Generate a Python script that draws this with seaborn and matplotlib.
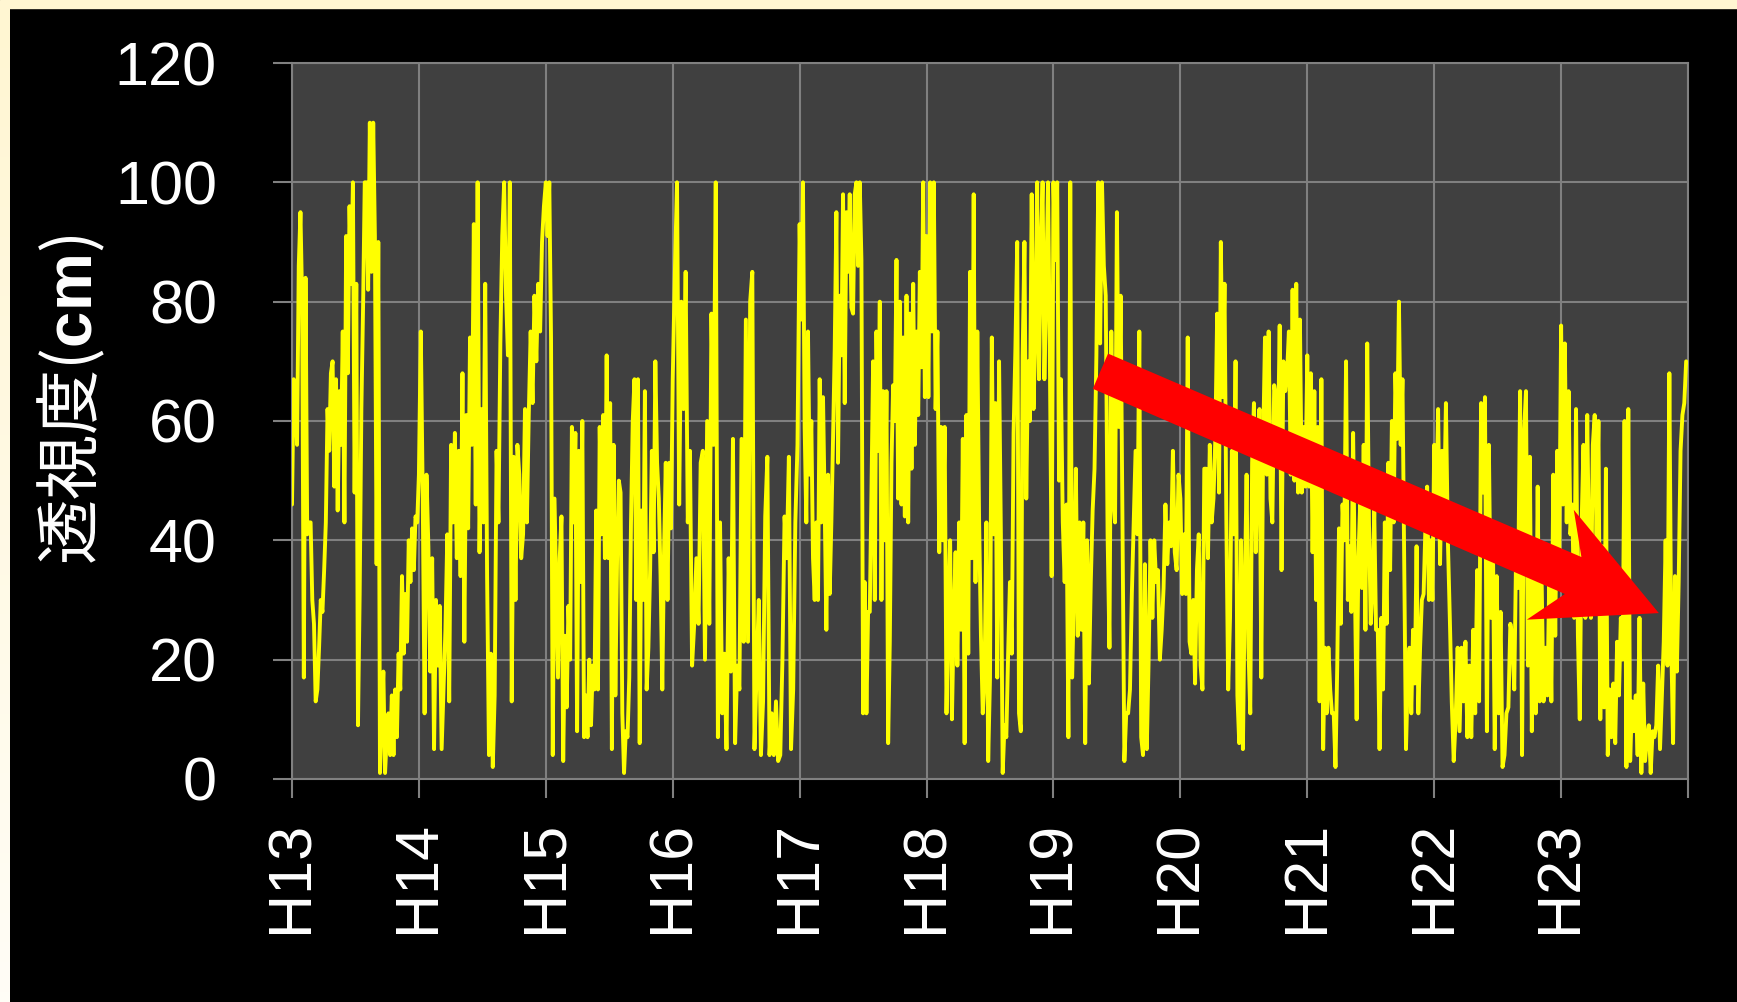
import numpy as np
import pandas as pd
import matplotlib
matplotlib.use('Agg')
import matplotlib.pyplot as plt
from matplotlib.colors import LinearSegmentedColormap
from matplotlib.patches import Polygon, Rectangle
import seaborn as sns

# ─── データ（年度ごとの透視度 cm、図から読み取り） ─────────────────────────
years = ['H13', 'H14', 'H15', 'H16', 'H17', 'H18', 'H19', 'H20', 'H21', 'H22', 'H23']

h13 = [46, 67, 65, 56, 86, 95, 80, 17, 84, 41, 43, 43, 30, 26, 13, 15, 22, 30, 28, 35,
       43, 62, 55, 68, 70, 49, 67, 45, 65, 56, 75, 43, 91, 68, 96, 83, 100, 48, 83, 9,
       31, 62, 79, 100, 100, 82, 110, 85, 110, 91, 36, 90, 1, 11, 18, 1, 7, 11, 4, 14,
       4, 15, 7, 21, 15, 34, 21, 31, 23, 40, 33, 42, 35, 44, 43]
h14 = [51, 75, 48, 11, 51, 39, 18, 37, 5, 30, 19, 29, 5, 15, 25, 41, 13, 56, 43, 58,
       37, 55, 34, 68, 23, 61, 42, 74, 56, 93, 46, 100, 38, 62, 43, 83, 34, 4, 21, 2,
       14, 55, 43, 73, 91, 100, 81, 71, 100, 13, 54, 30, 56, 51, 37, 41, 62, 43, 61, 75,
       63, 81, 70, 83, 75, 90, 96]
h15 = [100, 91, 100, 74, 4, 47, 32, 17, 37, 44, 3, 24, 12, 29, 20, 59, 43, 58, 8, 55,
       33, 60, 7, 14, 7, 20, 9, 19, 15, 45, 15, 59, 41, 61, 37, 71, 37, 63, 5, 56,
       14, 37, 50, 48, 11, 1, 8, 7, 17, 43, 60, 67, 30, 67, 6, 45, 30, 65, 15, 22,
       35, 55, 38, 70, 53, 47, 34, 15, 38, 53, 30, 53, 42]
h16 = [67, 85, 100, 46, 80, 62, 85, 43, 55, 19, 26, 37, 26, 53, 55, 20, 60, 26, 78, 56,
       100, 7, 43, 11, 21, 5, 37, 18, 57, 6, 19, 15, 57, 23, 77, 23, 80, 85, 5, 18,
       30, 4, 13, 44, 54, 4, 11, 4, 13, 3, 4, 20, 44, 37, 54, 5, 15, 43, 56]
h17 = [93, 77, 100, 59, 43, 75, 51, 60, 37, 30, 43, 30, 67, 43, 64, 46, 25, 51, 31, 43,
       57, 72, 95, 53, 81, 71, 98, 63, 95, 85, 98, 79, 78, 98, 100, 86, 100, 87, 11, 33,
       11, 28, 28, 48, 70, 30, 75, 55, 80, 30, 65, 40, 65, 6, 23, 53, 66, 60, 87, 47,
       80, 46, 74, 44, 81, 43, 78, 52, 83, 56, 75, 61, 85, 69, 100, 64]
h18 = [91, 64, 100, 75, 100, 62, 75, 38, 59, 40, 59, 11, 28, 40, 10, 27, 38, 19, 43, 25,
       57, 6, 61, 21, 85, 37, 98, 33, 75, 43, 24, 11, 17, 43, 3, 17, 74, 41, 63, 17,
       70, 41, 1, 9, 7, 21, 33, 21, 58, 72, 90, 11, 8, 71, 90, 47, 70, 60, 98, 62,
       75, 100, 67, 88, 100, 67, 82, 100, 71, 34]
h19 = [100, 87, 100, 50, 67, 43, 33, 46, 7, 100, 17, 31, 52, 24, 43, 25, 43, 6, 40, 16,
       33, 45, 52, 71, 100, 73, 100, 86, 81, 41, 22, 75, 47, 43, 95, 59, 81, 43, 3, 11,
       11, 15, 31, 43, 55, 41, 75, 7, 4, 36, 5, 20, 40, 27, 40, 33, 35, 20, 25, 32,
       46, 36, 43, 39, 55, 38, 35, 51]
h20 = [47, 31, 41, 31, 74, 23, 21, 30, 16, 35, 41, 19, 15, 52, 52, 37, 56, 43, 47, 57,
       78, 48, 90, 64, 83, 43, 15, 27, 55, 41, 70, 14, 6, 40, 5, 31, 51, 22, 11, 53,
       63, 38, 53, 62, 17, 56, 74, 51, 75, 47, 43, 66, 64, 55, 76, 35, 70, 65, 68, 75,
       51, 82, 50, 83, 48, 77, 48, 59, 49]
h21 = [71, 49, 68, 38, 65, 30, 59, 13, 67, 5, 22, 11, 22, 15, 11, 11, 2, 19, 42, 26,
       46, 40, 70, 30, 39, 28, 58, 33, 10, 37, 46, 32, 56, 25, 73, 43, 26, 32, 45, 25,
       25, 5, 27, 15, 43, 26, 53, 35, 60, 43, 68, 57, 80, 56, 67, 36, 5, 17, 22, 11,
       25, 16, 39, 11, 22, 30, 31, 42, 49, 30, 40, 30]
h22 = [56, 43, 62, 36, 55, 43, 63, 40, 27, 13, 3, 10, 22, 8, 22, 13, 23, 7, 19, 7,
       25, 11, 35, 13, 63, 48, 64, 8, 56, 27, 43, 5, 34, 11, 28, 2, 4, 11, 12, 26,
       24, 15, 39, 32, 65, 4, 58, 65, 19, 54, 8, 35, 11, 49, 13, 34, 13, 22, 14, 35,
       13, 51, 24, 55, 35]
h23 = [76, 46, 73, 43, 65, 41, 46, 27, 62, 24, 10, 43, 56, 27, 61, 37, 27, 56, 61, 40,
       60, 10, 39, 12, 52, 4, 15, 7, 16, 6, 23, 14, 27, 20, 60, 2, 62, 3, 13, 8,
       14, 4, 27, 1, 16, 3, 7, 9, 1, 8, 7, 9, 19, 5, 14, 23, 40, 19, 68, 23,
       6, 34, 18, 33, 55, 61, 63, 70]

series = [h13, h14, h15, h16, h17, h18, h19, h20, h21, h22, h23]

y_ticks = [0, 20, 40, 60, 80, 100, 120]

# 赤い矢印（注記、データ座標）
arrow_pts = [(6.43, 71.3), (10.16, 37.2), (10.10, 45.1), (10.77, 27.8),
             (9.73, 26.7), (10.03, 31.0), (6.31, 65.4)]

# ─── 時系列の組み立て（各年度内で等間隔） ──────────────────────────────────
rows = []
for i, vals in enumerate(series):
    n = len(vals)
    for j, v in enumerate(vals):
        rows.append((i + j / n, v))
df = pd.DataFrame(rows, columns=['t', 'v'])

# ─── 描画 ──────────────────────────────────────────────────────────────────
sns.set_style('dark')
plt.rcParams['font.family'] = ['Liberation Sans', 'DejaVu Sans']
plt.rcParams['mathtext.fontset'] = 'custom'
plt.rcParams['mathtext.bf'] = 'Liberation Sans:bold'
plt.rcParams['mathtext.rm'] = 'Liberation Sans'

GRID = '#808080'
CREAM = '#FFF6D2'

fig = plt.figure(figsize=(17.37, 10.02), dpi=100, facecolor='black')

# 上と左のクリーム色の縁（左は下に向かって白っぽく）
fig.patches.append(Rectangle((0, 1 - 8 / 1002), 1, 8 / 1002, transform=fig.transFigure,
                             color=CREAM, zorder=0))
edge = fig.add_axes([0, 0, 10 / 1737, 1 - 8 / 1002])
edge.imshow(np.linspace(0, 1, 100).reshape(-1, 1), aspect='auto',
            cmap=LinearSegmentedColormap.from_list('edge', [CREAM, '#FFFDF6']))
edge.set_axis_off()

ax = fig.add_axes([0.1681, 0.2226, 0.8037, 0.7145])
ax.set_facecolor('#404040')

sns.lineplot(data=df, x='t', y='v', ax=ax, color='#FFFF00', linewidth=2.8,
             estimator=None, legend=False, zorder=3)

ax.add_patch(Polygon(arrow_pts, closed=True, facecolor='#FF0000',
                     edgecolor='none', zorder=5))

ax.set_xlim(0, 11)
ax.set_ylim(0, 120)
ax.set_xticks(range(12))
ax.set_xticklabels(years + [''], rotation=90)
ax.set_yticks(y_ticks)
ax.set_xlabel('')
ax.set_ylabel('')

ax.grid(True, color=GRID, linewidth=1.5)
ax.set_axisbelow(True)
for s in ax.spines.values():
    s.set_visible(True)
    s.set_color(GRID)
    s.set_linewidth(1.5)

ax.tick_params(axis='y', colors=GRID, labelcolor='white', labelsize=44,
               length=14, width=1.5, pad=40, left=True, direction='out')
ax.tick_params(axis='x', colors=GRID, labelcolor='white', labelsize=44,
               length=14, width=1.5, pad=16, bottom=True, direction='out')

fig.text(72 / 1737, 1 - 400 / 1002, '透視度($\\mathbf{cm}$)', rotation=90,
         ha='center', va='center', color='white', fontsize=47,
         family=['Noto Sans CJK JP', 'DejaVu Sans'])

fig.savefig('out.png', dpi=100, facecolor='black', edgecolor='black')
